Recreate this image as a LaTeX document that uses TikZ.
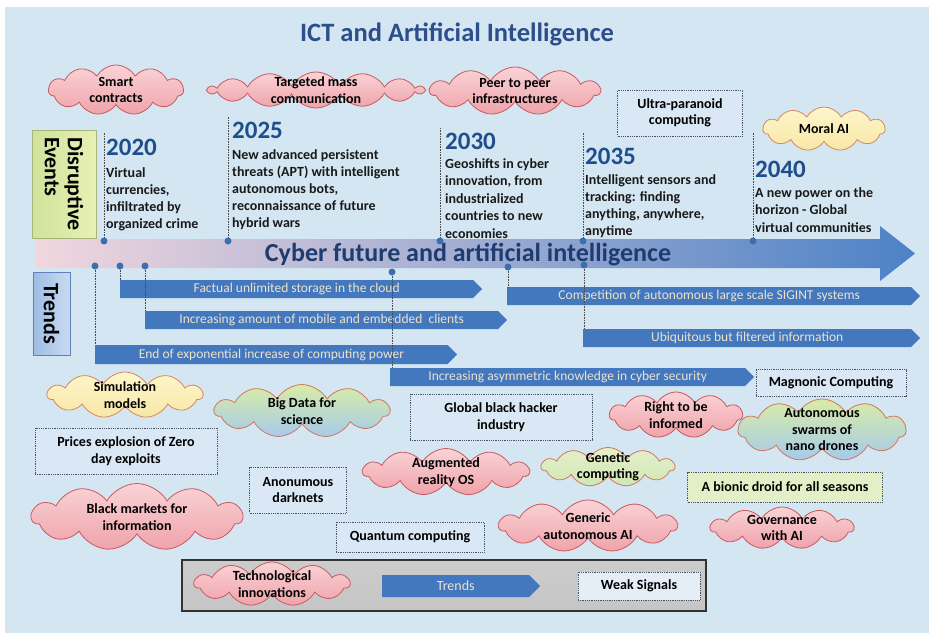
\documentclass[tikz,border=0pt]{standalone}
\usepackage{fontspec}
\setmainfont{Carlito}
\usetikzlibrary{shapes.symbols,shapes.geometric}
\definecolor{bgblue}{HTML}{D5E6F3}
\definecolor{titleblue}{HTML}{2C4E8A}
\definecolor{axistext}{HTML}{1E3C70}
\definecolor{yearblue}{HTML}{1F4E8C}
\definecolor{barblue}{HTML}{4378BF}
\definecolor{bartext}{HTML}{EDE2CB}
\definecolor{dotblue}{HTML}{3B6FAE}
\definecolor{pinktop}{HTML}{F9D3D6}
\definecolor{pinkbot}{HTML}{EFA3AA}
\definecolor{pinkedge}{HTML}{C9585F}
\definecolor{yeltop}{HTML}{FDF6CC}
\definecolor{yelbot}{HTML}{F8E7A6}
\definecolor{yeledge}{HTML}{D9865A}
\definecolor{gtop}{HTML}{D8ECA6}
\definecolor{gbot}{HTML}{A6CAEB}
\definecolor{gedge}{HTML}{D0765C}
\definecolor{gentop}{HTML}{E4F0CC}
\definecolor{genbot}{HTML}{D2E6B4}
\definecolor{boxedge}{HTML}{4A5265}
\definecolor{boxfill}{HTML}{DAE7F4}
\definecolor{bionicfill}{HTML}{E3EFC6}
\definecolor{detop}{HTML}{E8F0B4}
\definecolor{debot}{HTML}{CFE39B}
\definecolor{deedge}{HTML}{A9B577}
\definecolor{trtop}{HTML}{C9DBF2}
\definecolor{trbot}{HTML}{9DBCE4}
\definecolor{tredge}{HTML}{5F82BA}
\definecolor{arrowpink}{HTML}{F1D6DE}
\definecolor{arrowlight}{HTML}{AFC9E7}
\definecolor{arrowblue}{HTML}{4D82C6}
\newcommand\CloudF{\bfseries\fontsize{14}{16.5}\selectfont}
\newcommand\BarF{\fontsize{13.5}{16}\selectfont}
\newcommand\YearF{\bfseries\fontsize{25}{28}\selectfont}
\newcommand\DescF{\bfseries\fontsize{14}{17}\selectfont}
\newcommand\SideF{\bfseries\fontsize{22}{23}\selectfont}
\begin{document}
\begin{tikzpicture}[x=1pt,y=-1pt,
  cl/.style={cloud, cloud puffs=11, cloud puff arc=120, cloud ignores aspect, inner sep=0pt, line width=0.8pt},
  lab/.style={font=\CloudF, align=center, inner sep=0pt, text=black},
  pinkcl/.style={cl, draw=pinkedge, top color=pinktop, bottom color=pinkbot},
  yelcl/.style={cl, draw=yeledge, top color=yeltop, bottom color=yelbot},
  grcl/.style={cl, draw=gedge, top color=gtop, bottom color=gbot},
  gencl/.style={cl, draw=gedge, top color=gentop, bottom color=genbot},
  dbox/.style={draw=boxedge, densely dotted, line width=0.8pt, fill=boxfill, align=center, font=\CloudF, inner sep=0pt},
  tbar/.style={signal, signal to=east, fill=barblue, inner sep=0pt, text=bartext, font=\BarF, anchor=west},
  dotn/.style={circle, fill=dotblue, inner sep=0pt, minimum size=7pt},
  vdot/.style={draw=gray!60!black, densely dotted, line width=0.6pt},
  yr/.style={font=\YearF, text=yearblue, inner sep=0pt, anchor=base west},
  ds/.style={font=\DescF, align=left, inner sep=0pt, anchor=north west, text=black!90}
]
\useasboundingbox (0,0) rectangle (934,640);
\fill[white] (0,0) rectangle (934,640);
\fill[bgblue] (5,7) rectangle (929,633);

% title
\node[font=\bfseries\fontsize{26.5}{30}\selectfont, text=titleblue] (title) at (457,34) {ICT and Artificial Intelligence};

% main axis arrow
\shade[left color=arrowpink, middle color=arrowlight, right color=arrowblue]
  (36,239) -- (880,239) -- (880,226) -- (915,253.5) -- (880,281) -- (880,268) -- (36,268) -- cycle;
\node[font=\bfseries\fontsize{26}{30}\selectfont, text=axistext] (axis) at (468,255) {Cyber future and artificial intelligence};

% side labels
\node[draw=deedge, line width=0.8pt, left color=debot, right color=detop, minimum width=108pt, minimum height=64pt, rotate=-90, align=left, font=\SideF, inner sep=0pt] (de) at (64,184) {Disruptive\\Events};
\node[draw=tredge, line width=0.8pt, left color=trbot, right color=trtop, minimum width=83pt, minimum height=37pt, rotate=-90, font=\SideF, inner sep=0pt] (tr) at (51.5,313.5) {Trends};

% top clouds
\node[pinkcl, minimum width=135pt, minimum height=50pt, label={[lab]center:{Smart\\contracts}}] (smart) at (116,90) {};
\node[pinkcl, cloud puffs=14, minimum width=215pt, minimum height=36pt, label={[lab]center:{Targeted mass\\communication}}] (targeted) at (316,90) {};
\node[pinkcl, minimum width=170pt, minimum height=48pt, label={[lab]center:{Peer to peer\\infrastructures}}] (peer) at (515,91) {};
\node[dbox, minimum width=125pt, minimum height=46pt] (ultra) at (680,113) {Ultra-paranoid\\computing};
\node[yelcl, minimum width=122pt, minimum height=44pt, label={[lab]center:{Moral AI}}] (moral) at (824,129) {};

% events
\node[dotn] (e1) at (104,241) {};
\node[dotn] (e2) at (228,241) {};
\node[dotn] (e3) at (440,241) {};
\node[dotn] (e4) at (583,241) {};
\node[dotn] (e5) at (753,241) {};
\coordinate (e1t) at (104,132);
\coordinate (e2t) at (228,117);
\coordinate (e3t) at (440,128);
\coordinate (e4t) at (583,133);
\coordinate (e5t) at (753,133);
\draw[vdot] (e1) -- (e1t);
\draw[vdot] (e2) -- (e2t);
\draw[vdot] (e3) -- (e3t);
\draw[vdot] (e4) -- (e4t);
\draw[vdot] (e5) -- (e5t);

\node[yr] (y2020) at (106,155) {2020};
\node[ds] (d2020) at (106,167) {Virtual\\currencies,\\infiltrated by\\organized crime};
\node[yr] (y2025) at (232,138) {2025};
\node[ds] (d2025) at (232,149) {New advanced persistent\\threats (APT) with intelligent\\autonomous bots,\\reconnaissance of future\\hybrid wars};
\node[yr] (y2030) at (445,149) {2030};
\node[ds, font=\bfseries\fontsize{14}{17.5}\selectfont] (d2030) at (445,158) {Geoshifts in cyber\\innovation, from\\industrialized\\countries to new\\economies};
\node[yr] (y2035) at (585,164) {2035};
\node[ds] (d2035) at (585,174) {Intelligent sensors and\\tracking: finding\\anything, anywhere,\\anytime};
\node[yr] (y2040) at (755,177) {2040};
\node[ds, font=\bfseries\fontsize{14}{17.5}\selectfont] (d2040) at (755,187) {A new power on the\\horizon - Global\\virtual communities};

% trends
\node[tbar, minimum width=362pt, minimum height=18pt] (t1) at (120,289) {Factual unlimited storage in the cloud};
\node[tbar, minimum width=362pt, minimum height=18pt] (t2) at (145,320) {Increasing amount of mobile and embedded\ \ clients};
\node[tbar, minimum width=362pt, minimum height=19pt] (t3) at (95,354.5) {End of exponential increase of computing power};
\node[tbar, minimum width=364pt, minimum height=18pt] (t4) at (390,377) {Increasing asymmetric knowledge in cyber security};
\node[tbar, minimum width=413pt, minimum height=18pt] (t5) at (507,296) {Competition of autonomous large scale SIGINT systems};
\node[tbar, minimum width=337pt, minimum height=18pt] (t6) at (583,338) {Ubiquitous but filtered information};

\node[dotn] (p1) at (120,266) {};
\node[dotn] (p2) at (145,266) {};
\node[dotn] (p3) at (95,266) {};
\node[dotn] (p4) at (392,272) {};
\node[dotn] (p5) at (508,267) {};
\node[dotn] (p6) at (584,265) {};
\draw[vdot] (p1) -- (p1 |- t1.north);
\draw[vdot] (p2) -- (p2 |- t2.north);
\draw[vdot] (p3) -- (p3 |- t3.north);
\draw[vdot] (p4) -- (p4 |- t4.north);
\draw[vdot] (p5) -- (p5 |- t5.north);
\draw[vdot] (p6) -- (p6 |- t6.north);

% bottom items
\node[yelcl, minimum width=155pt, minimum height=46pt, label={[lab]center:{Simulation\\models}}] (sim) at (125,395) {};
\node[grcl, minimum width=175pt, minimum height=53pt, label={[lab]center:{Big Data for\\science}}] (bigdata) at (302,411) {};
\node[dbox, minimum width=182pt, minimum height=46pt] (prices) at (126,451) {Prices explosion of Zero\\day exploits};
\node[pinkcl, minimum width=211pt, minimum height=67pt, label={[lab]center:{Black markets for\\information}}] (black) at (137,517) {};
\node[dbox, minimum width=97pt, minimum height=46pt] (anon) at (298,490) {Anonumous\\darknets};
\node[dbox, minimum width=182pt, minimum height=46pt] (global) at (501,417) {Global black hacker\\industry};
\node[pinkcl, minimum width=166pt, minimum height=47pt, label={[lab]center:{Augmented\\reality OS}}] (augm) at (446,472) {};
\node[dbox, minimum width=148pt, minimum height=30pt] (quantum) at (410,537) {Quantum computing};
\node[pinkcl, minimum width=133pt, minimum height=46pt, label={[lab]center:{Right to be\\informed}}] (right) at (676,415) {};
\node[dbox, minimum width=150pt, minimum height=27pt] (magn) at (831,383) {Magnonic Computing};
\node[grcl, minimum width=168pt, minimum height=62pt, label={[lab]center:{Autonomous\\swarms of\\nano drones}}] (swarms) at (822,430) {};
\node[gencl, minimum width=133pt, minimum height=39pt, label={[lab]center:{Genetic\\computing}}] (genetic) at (608,467) {};
\node[dbox, fill=bionicfill, minimum width=195pt, minimum height=30pt] (bionic) at (785,487) {A bionic droid for all seasons};
\node[pinkcl, minimum width=178pt, minimum height=52pt, label={[lab]center:{Generic\\autonomous AI}}] (generic) at (588,526) {};
\node[pinkcl, minimum width=143pt, minimum height=42pt, label={[lab]center:{Governance\\with AI}}] (gov) at (782,528) {};

% legend
\node[draw=black!80, line width=1.5pt, top color=gray!40, middle color=white, bottom color=gray!45, minimum width=524pt, minimum height=51pt, inner sep=0pt] (legend) at (444,585.5) {};
\node[pinkcl, minimum width=155pt, minimum height=44pt, label={[lab]center:{Technological\\innovations}}] (legcl) at (272,584) {};
\node[tbar, minimum width=158pt, minimum height=22pt, font=\fontsize{14}{16}\selectfont] (legbar) at (382,586) {Trends};
\node[dbox, fill=boxfill!70!white, minimum width=122pt, minimum height=28pt] (legbox) at (639,586) {Weak Signals};
\end{tikzpicture}
\end{document}
